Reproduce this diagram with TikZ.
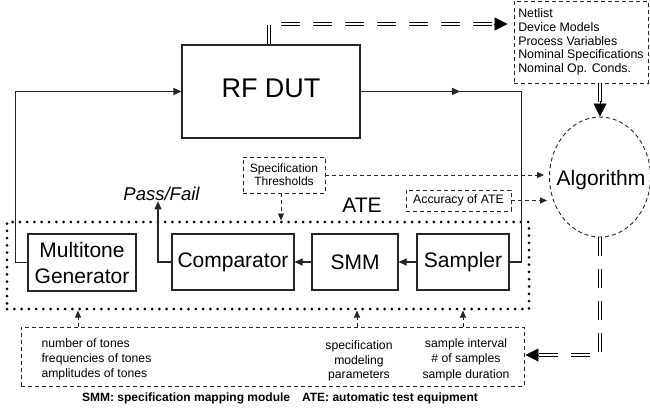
\documentclass[tikz,border=0pt]{standalone}
\usepackage{fontspec}
\setmainfont{Liberation Sans}
\usetikzlibrary{arrows.meta,shapes.geometric,decorations.markings}
\begin{document}
\begin{tikzpicture}[x=1pt,y=-1pt,
  font=\fontsize{12}{13.7}\selectfont,
  ink/.style={draw=black!85},
  blk/.style={ink, line width=1.1pt, inner sep=0pt, align=center,
    font=\fontsize{21}{26}\selectfont},
  dbox/.style={ink, line width=0.9pt, dash pattern=on 4pt off 3pt},
  fence/.style={draw=black, line width=3pt, dash pattern=on 0pt off 7.26pt,
    line cap=round, inner sep=0pt},
  wire/.style={ink, line width=1.1pt},
  dashwire/.style={ink, line width=0.9pt, dash pattern=on 4pt off 3pt},
  solidtip/.style={-{Triangle[length=8pt,width=7pt]}},
  smalltip/.style={-{Triangle[length=7pt,width=6pt]}},
  pipe/.style={draw=black, line width=1.1pt, double=white, double distance=2pt},
  dashpipe/.style={pipe, dash pattern=on 19pt off 13pt},
  bigtip/.style={draw=black, fill=black, line width=0.8pt,
    -{Triangle[length=13pt,width=13pt]}},
  midtip/.style={postaction={decorate}, decoration={markings,
    mark=at position #1 with {\arrow{Triangle[length=8pt,width=7pt]}}}},
]
\useasboundingbox[fill=white] (0,0) rectangle (650,415);

% ATE enclosure
\node[fence, minimum width=522pt, minimum height=87pt] (ate) at (268,265.5) {};
\node[font=\fontsize{21}{24}\selectfont, anchor=base] (atelbl) at (362,212) {ATE};

% main blocks
\node[blk, minimum width=178pt, minimum height=93pt, text depth=6pt,
      font=\fontsize{27}{30}\selectfont] (dut) at (271,91.5) {RF DUT};
\node[blk, minimum width=108pt, minimum height=57pt] (mg) at (82,262.5) {Multitone\\Generator};
\node[blk, minimum width=122pt, minimum height=56pt] (cmp) at (233,262) {Comparator};
\node[blk, minimum width=86pt, minimum height=56pt] (smm) at (355,262) {SMM};
\node[blk, minimum width=92pt, minimum height=56pt] (smp) at (463,262) {Sampler};

\node[font=\fontsize{18.5}{21}\selectfont\itshape, anchor=base, inner sep=1pt] (pf) at (161.5,200) {Pass/Fail};

% information boxes
\node[dbox, minimum width=82pt, minimum height=36pt, inner sep=2pt, align=center,
      font=\fontsize{12}{13}\selectfont] (spec) at (284,175) {Specification\\Thresholds};
\node[dbox, minimum width=105pt, minimum height=21pt, inner sep=1pt,
      font=\fontsize{12.3}{13}\selectfont] (acc) at (458.5,200.5) {Accuracy of ATE};
\node[dbox, minimum width=134pt, minimum height=82pt, inner sep=2pt,
      align=left, font=\fontsize{12.4}{13.7}\selectfont] (net) at (581,42)
      {Netlist\\Device Models\\Process Variables\\Nominal Specifications\\Nominal Op. Conds.};
\node[ellipse, dbox, minimum width=101pt, minimum height=120pt, inner sep=0pt] (alg) at (600,177) {};
\node[font=\fontsize{21}{24}\selectfont, anchor=base] (algtxt) at (601,185) {Algorithm};

% test set-up parameters
\node[dbox, minimum width=503pt, minimum height=59pt] (bot) at (272.5,356.5) {};
\node[align=left, anchor=west, font=\fontsize{12.2}{15}\selectfont] (tones) at (38,359.5)
  {number of tones\\frequencies of tones\\amplitudes of tones};
\node[align=center, font=\fontsize{12.2}{14.5}\selectfont] (model) at (359,361)
  {specification\\modeling\\parameters};
\node[align=center, font=\fontsize{12.2}{15.5}\selectfont] (samp) at (466,359.5)
  {sample interval\\\# of samples\\sample duration};

\node[font=\bfseries\fontsize{12}{14}\selectfont] (cap) at (280,398)
  {SMM: specification mapping module\quad ATE: automatic test equipment};

% signal path
\draw[wire, solidtip] (mg.west) -- ++(-12,0) |- (dut.west);
\draw[wire, midtip=0.29] (dut.east) -- ++(161,0) |- (smp.east);
\draw[wire, solidtip] (smp.west) -- (smm.east);
\draw[wire, solidtip] (smm.west) -- (cmp.east);
\draw[wire, solidtip] (cmp.west) -| ([xshift=-3.5pt]pf.south);

% dashed information links
\draw[dashwire, smalltip] ([xshift=-3pt]spec.south) -- ([xshift=13pt]ate.north);
\draw[dashwire, smalltip, shorten >=5pt] (spec.east) -- (spec.east -| alg.west);
\draw[dashwire, smalltip, shorten >=2pt] (acc.east) -- (acc.east -| alg.west);
\draw[dashwire, smalltip] ([xshift=-194.5pt]bot.north) -- ([xshift=-190pt]ate.south);
\draw[dashwire, smalltip] ([xshift=84.5pt]bot.north) -- ([xshift=89pt]ate.south);
\draw[dashwire, smalltip] ([xshift=190.5pt]bot.north) -- ([xshift=195pt]ate.south);

% double-line data flows
\draw[dashpipe, shorten >=13pt] ([xshift=-2pt]dut.north) |- ([xshift=-6pt,yshift=18pt]net.west);
\draw[bigtip] ([xshift=-20pt,yshift=18pt]net.west) -- ([xshift=-6pt,yshift=18pt]net.west);

\draw[pipe, shorten >=15pt] (alg.north |- net.south) -- (alg.north);
\draw[bigtip] ([yshift=16pt]alg.north) -- (alg.north);

\draw[dashpipe, shorten >=13pt] (alg.south) |- ([xshift=1pt,yshift=1.5pt]bot.east);
\draw[bigtip] ([xshift=15pt,yshift=1.5pt]bot.east) -- ([xshift=1pt,yshift=1.5pt]bot.east);
\end{tikzpicture}
\end{document}
